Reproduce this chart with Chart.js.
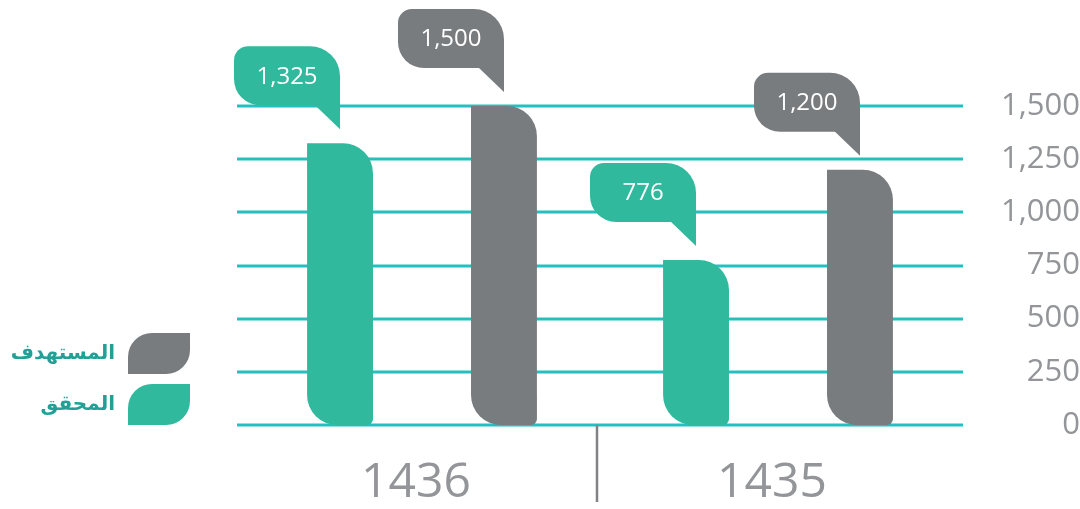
<!DOCTYPE html>
<html>
<head>
<meta charset="utf-8">
<script src="https://cdn.jsdelivr.net/npm/chart.js@4.4.1/dist/chart.umd.min.js"></script>
<style>
  html, body { margin: 0; padding: 0; background: #fff; }
</style>
</head>
<body>
<canvas id="chart" width="1080" height="509"></canvas>
<script>
const years = ['1436', '1435']
const achieved = [1325, 776]
const target = [1500, 1200]
const yTicks = [0, 250, 500, 750, 1000, 1250, 1500]
const seriesNames = ['المحقق', 'المستهدف']

const GREEN = '#31b99e'
const GRAY = '#797c7f'
const GRID = '#26bfbf'

// rounded box with optional corners, square where radius is 0
function roundPath(ctx, x, y, w, h, r) {
  ctx.beginPath()
  ctx.moveTo(x + r.tl, y)
  ctx.lineTo(x + w - r.tr, y)
  if (r.tr) ctx.arcTo(x + w, y, x + w, y + r.tr, r.tr)
  ctx.lineTo(x + w, y + h - r.br)
  if (r.br) ctx.arcTo(x + w, y + h, x + w - r.br, y + h, r.br)
  ctx.lineTo(x + r.bl, y + h)
  if (r.bl) ctx.arcTo(x, y + h, x, y + h - r.bl, r.bl)
  ctx.lineTo(x, y + r.tl)
  if (r.tl) ctx.arcTo(x, y, x + r.tl, y, r.tl)
  ctx.closePath()
}

// grid lines run a bit wider than the plot area
const gridLines = {
  id: 'gridLines',
  beforeDatasetsDraw(chart) {
    const ctx = chart.ctx, y = chart.scales.y, area = chart.chartArea
    ctx.save()
    ctx.strokeStyle = GRID
    ctx.lineWidth = 3
    y.ticks.forEach(t => {
      const py = Math.round(y.getPixelForValue(t.value))
      ctx.beginPath()
      ctx.moveTo(area.left - 7, py)
      ctx.lineTo(area.right + 7, py)
      ctx.stroke()
    })
    ctx.restore()
  }
}

const bubbles = {
  id: 'bubbles',
  afterDatasetsDraw(chart) {
    const ctx = chart.ctx
    ctx.save()
    chart.data.datasets.forEach((ds, i) => {
      chart.getDatasetMeta(i).data.forEach((bar, j) => {
        const right = bar.x, bottom = bar.y - 38, top = bar.y - 97
        const left = right - 106
        ctx.fillStyle = ds.backgroundColor
        roundPath(ctx, left, top, right - left, bottom - top, { tl: 14, tr: 30, br: 0, bl: 26 })
        ctx.fill()
        ctx.beginPath()
        ctx.moveTo(right - 26, bottom - 1)
        ctx.lineTo(right, bottom - 1)
        ctx.lineTo(right, bar.y - 14)
        ctx.closePath()
        ctx.fill()
        ctx.fillStyle = '#fff'
        ctx.font = '24px "Open Sans"'
        ctx.textAlign = 'center'
        ctx.textBaseline = 'middle'
        ctx.fillText(ds.data[j].toLocaleString('en-US'), (left + right) / 2, (top + bottom) / 2 + 1)
      })
    })
    ctx.restore()
  }
}

const extras = {
  id: 'extras',
  afterDraw(chart) {
    const ctx = chart.ctx
    const x = chart.scales.x
    ctx.save()
    // divider between the two years
    const mid = (x.getPixelForValue(0) + x.getPixelForValue(1)) / 2 - 3
    ctx.strokeStyle = '#808285'
    ctx.lineWidth = 2.5
    ctx.beginPath()
    ctx.moveTo(mid, chart.chartArea.bottom)
    ctx.lineTo(mid, 502)
    ctx.stroke()

    // legend, target on top
    const items = chart.data.datasets.slice().reverse()
    items.forEach((ds, k) => {
      const top = 333 + k * 51
      ctx.fillStyle = ds.backgroundColor
      roundPath(ctx, 128, top, 62, 41, { tl: 24, tr: 0, br: 24, bl: 0 })
      ctx.fill()
      ctx.fillStyle = '#22a096'
      ctx.font = 'bold 20px "DejaVu Sans"'
      ctx.textAlign = 'right'
      ctx.textBaseline = 'middle'
      ctx.fillText(ds.label, 115, top + 21)
    })
    ctx.restore()
  }
}

new Chart(document.getElementById('chart'), {
  type: 'bar',
  data: {
    labels: years,
    datasets: [
      { label: seriesNames[0], data: achieved, backgroundColor: GREEN },
      { label: seriesNames[1], data: target, backgroundColor: GRAY }
    ]
  },
  options: {
    responsive: false,
    animation: false,
    locale: 'en-US',
    layout: { padding: { left: 244, top: 106, right: 0, bottom: 0 } },
    datasets: {
      bar: {
        categoryPercentage: 0.921,
        barPercentage: 0.402,
        borderSkipped: false,
        borderRadius: { topLeft: 0, topRight: 30, bottomLeft: 30, bottomRight: 6 }
      }
    },
    plugins: {
      legend: { display: false },
      tooltip: { enabled: false }
    },
    scales: {
      x: {
        grid: { display: false },
        border: { display: false },
        afterFit(s) { s.height = 84 },
        ticks: { color: '#939598', padding: 22, labelOffset: -6, font: { family: 'Open Sans', size: 48 } }
      },
      y: {
        position: 'right',
        min: 0,
        max: 1500,
        afterBuildTicks(s) { s.ticks = yTicks.map(v => ({ value: v })) },
        afterFit(s) { s.width = 124 },
        grid: { display: false, drawTicks: false },
        border: { display: false },
        ticks: {
          color: '#939598',
          padding: 39,
          crossAlign: 'far',
          font: { family: 'Open Sans', size: 31 }
        }
      }
    }
  },
  plugins: [gridLines, bubbles, extras]
})
</script>
</body>
</html>
